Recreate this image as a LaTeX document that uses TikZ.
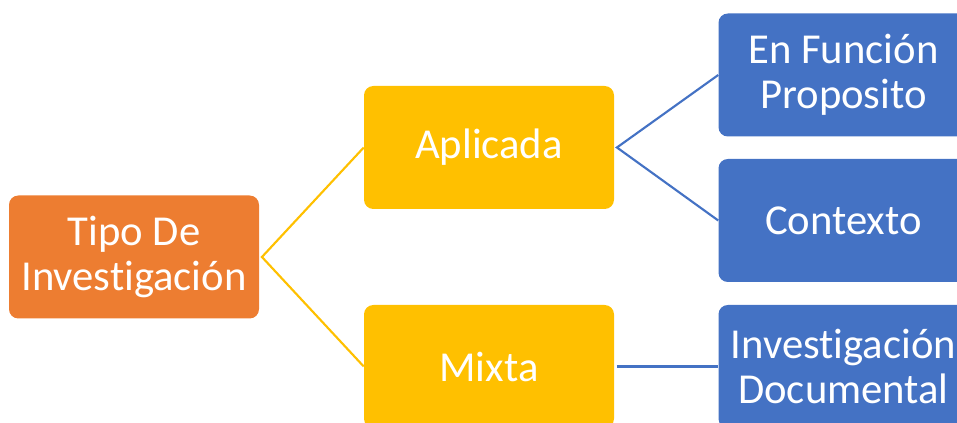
\documentclass[tikz,border=0pt]{standalone}
\usepackage{fontspec}
\setmainfont[Ligatures=NoCommon]{Carlito}
\definecolor{tipoorange}{HTML}{ED7D31}
\definecolor{tipoyellow}{HTML}{FFC000}
\definecolor{tipoblue}{HTML}{4472C4}
\tikzset{
  tipobox/.style={rounded corners=7pt, minimum width=187.5pt, minimum height=92.25pt,
    inner sep=0pt, align=center, text=white, font=\fontsize{32}{34}\selectfont},
  rama/.style={line width=1.6pt},
}
\begin{document}
\begin{tikzpicture}[%
x=0.75pt, y=-0.75pt,
]
\useasboundingbox (0,0) rectangle (957,423);
\clip (0,0) rectangle (957,423);
%% root;
\node [tipobox, fill=tipoorange] (tipo) at (134,257) {Tipo De\\Investigación};
%% second level;
\node [tipobox, fill=tipoyellow] (aplicada) at (489,147.5) {Aplicada};
\node [tipobox, fill=tipoyellow] (mixta) at (489,366.5) {Mixta};
%% third level;
\node [tipobox, fill=tipoblue] (funcion) at (843.5,75) {En Función\\Proposito};
\node [tipobox, fill=tipoblue] (contexto) at (843.5,220.5) {Contexto};
\node [tipobox, fill=tipoblue] (documental) at (843.5,366.5) {Investigación\\Documental};
%% branches;
\draw [rama, tipoyellow] (aplicada.west) -- ([xshift=2]tipo.east) -- (mixta.west);
\draw [rama, tipoblue] (funcion.west) -- ([xshift=2]aplicada.east) -- (contexto.west);
\draw [rama, tipoblue] ([xshift=2]mixta.east) -- (documental.west);
\end{tikzpicture}
\end{document}
